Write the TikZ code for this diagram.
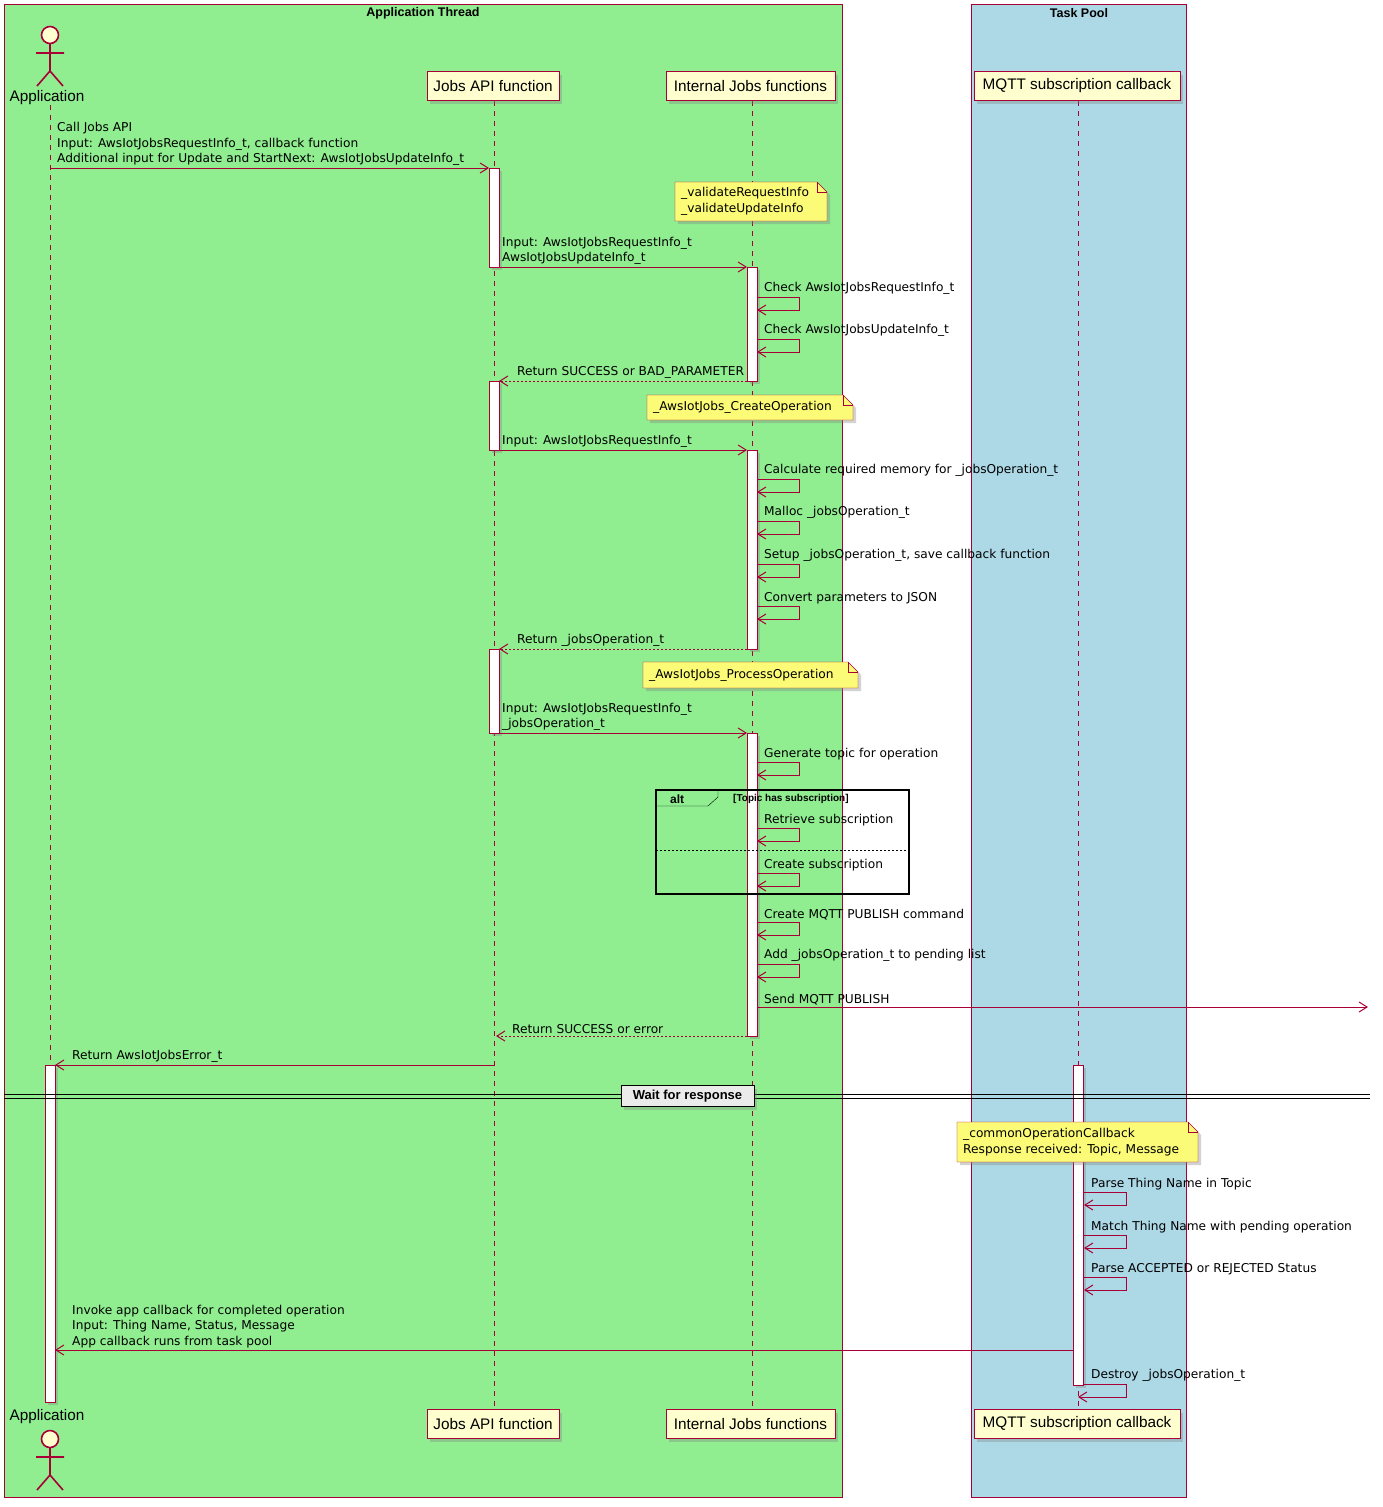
\documentclass[tikz,border=0pt]{standalone}
\usepackage{fontspec}
\setmainfont{Liberation Sans}
\newfontfamily\msgf{DejaVu Sans}
\usetikzlibrary{arrows.meta,shadows}
\definecolor{red}{HTML}{A80036}
\definecolor{part}{HTML}{FEFECE}
\definecolor{notec}{HTML}{FBFB77}
\definecolor{grn}{HTML}{90EE90}
\definecolor{blu}{HTML}{ADD8E6}
\begin{document}
\begin{tikzpicture}[x=1pt,y=-1pt,
  msgfont/.style={font=\msgf\fontsize{12.2}{15.5}\selectfont},
  txt/.style={msgfont,align=left,anchor=south west,inner sep=0pt},
  arr/.style={draw=red,line width=0.9pt,-{Straight Barb[length=8pt,width=10pt,line width=1pt]}},
  ret/.style={arr,dash pattern=on 2pt off 2pt},
  life/.style={draw=red,dash pattern=on 5pt off 5pt},
  part/.style={draw=red,fill=part,thick,minimum height=29pt,inner sep=3pt,font=\fontsize{15.3}{17}\selectfont,drop shadow={shadow xshift=3pt,shadow yshift=-3pt,opacity=.35}},
  act/.style={draw=red,fill=white,drop shadow={shadow xshift=3pt,shadow yshift=-3pt,opacity=.35}},
  note/.style={draw=red,fill=notec,drop shadow={shadow xshift=3pt,shadow yshift=-3pt,opacity=.35}},
  ntxt/.style={msgfont,align=left,anchor=west,inner sep=0pt}]
\useasboundingbox (0,0) rectangle (1382,1507);
\fill[white] (0,0) rectangle (1382,1507);
% boxes
\draw[red,fill=grn] (4,4) rectangle (842,1497);
\node[font=\bfseries\fontsize{12.5}{14}\selectfont] (t1) at (423,13) {Application Thread};
\draw[red,fill=blu] (971,4) rectangle (1186,1497);
\node[font=\bfseries\fontsize{12.5}{14}\selectfont] (t2) at (1079,13) {Task Pool};
% lifelines
\draw[life] (50,105) -- (50,1405);
\draw[life] (494,101) -- (494,1410);
\draw[life] (752,101) -- (752,1410);
\draw[life] (1078,101) -- (1078,1410);
% participants
\foreach \y/\s in {86/t,1424/b}{
 \node[part,minimum width=132pt] (j\s) at (493,\y) {Jobs API function};
 \node[part,minimum width=169pt] (i\s) at (750.5,\y) {Internal Jobs functions};
 \node[part,minimum width=206pt] (m\s) at (1077,\y) {MQTT subscription callback};
}
% actors
\foreach \y/\ly in {26/98, 1430/1417}{
 \draw[red,line width=1.6pt,fill=part] (50,\y+9) circle (8.5);
 \draw[red,line width=1.6pt] (50,\y+18) -- (50,\y+45) (36,\y+27) -- (64,\y+27) (50,\y+45) -- (37,\y+60) (50,\y+45) -- (63,\y+60);
 \node[font=\fontsize{15.3}{17}\selectfont] at (47,\ly) {Application};
}
% activations
\foreach \x/\a/\b in {489/168/267, 747/267/381, 489/381/450, 747/450/649, 489/649/733, 747/733/1036, 45/1065/1402, 1073/1065/1385}
 \draw[act] (\x,\a) rectangle (\x+10,\b);
% notes
\newcommand\mynote[5]{\draw[note] (#1,#2) -- (#3-10,#2) -- (#3,#2+10) -- (#3,#4) -- (#1,#4) -- cycle;
 \draw[red] (#3-10,#2) -- (#3-10,#2+10) -- (#3,#2+10);
 \node[ntxt] at (#1+6,{(#2+#4)/2}) {#5};}
\mynote{675}{182}{827}{221}{\_validateRequestInfo\\\_validateUpdateInfo}
\mynote{647}{395}{853}{420}{\_AwsIotJobs\_CreateOperation}
\mynote{643}{662}{858}{688}{\_AwsIotJobs\_ProcessOperation}
\mynote{957}{1122}{1198}{1162}{\_commonOperationCallback\\Response received: Topic, Message}
% messages
\newcommand\sm[3]{\draw[arr] (#1,#2) -- (#1+42,#2) -- (#1+42,#2+13) -- (#1,#2+13);
 \node[txt] at (#1+7,#2-2) {#3};}
\draw[arr] (50,168) -- (489,168); \node[txt] at (57,166) {Call Jobs API\\Input: AwsIotJobsRequestInfo\_t, callback function\\Additional input for Update and StartNext: AwsIotJobsUpdateInfo\_t};
\draw[arr] (499,267) -- (747,267); \node[txt] at (502,265) {Input: AwsIotJobsRequestInfo\_t\\AwsIotJobsUpdateInfo\_t};
\sm{757}{297}{Check AwsIotJobsRequestInfo\_t}
\sm{757}{339}{Check AwsIotJobsUpdateInfo\_t}
\draw[ret] (747,381) -- (499,381); \node[txt] at (517,379) {Return SUCCESS or BAD\_PARAMETER};
\draw[arr] (499,450) -- (747,450); \node[txt] at (502,448) {Input: AwsIotJobsRequestInfo\_t};
\sm{757}{479}{Calculate required memory for \_jobsOperation\_t}
\sm{757}{521}{Malloc \_jobsOperation\_t}
\sm{757}{564}{Setup \_jobsOperation\_t, save callback function}
\sm{757}{606}{Convert parameters to JSON}
\draw[ret] (747,649) -- (499,649); \node[txt] at (517,647) {Return \_jobsOperation\_t};
\draw[arr] (499,733) -- (747,733); \node[txt] at (502,731) {Input: AwsIotJobsRequestInfo\_t\\\_jobsOperation\_t};
\sm{757}{762}{Generate topic for operation}
% alt frame
\draw[black,line width=1.6pt] (656,790) rectangle (909,894);
\draw[black] (656,806) -- (708,806) -- (718,797) -- (718,790);
\node[font=\bfseries\fontsize{12}{13}\selectfont,anchor=west,inner sep=0pt] at (670,799) {alt};
\node[font=\bfseries\fontsize{10}{11}\selectfont,anchor=west,inner sep=0pt] at (733,799) {[Topic has subscription]};
\draw[black,dash pattern=on 2pt off 2pt] (656,850) -- (909,850);
\sm{757}{828}{Retrieve subscription}
\sm{757}{873}{Create subscription}
\sm{757}{922}{Create MQTT PUBLISH command}
\sm{757}{964}{Add \_jobsOperation\_t to pending list}
\draw[arr] (757,1007) -- (1368,1007); \node[txt] at (764,1005) {Send MQTT PUBLISH};
\draw[ret] (747,1036) -- (496,1036); \node[txt] at (512,1034) {Return SUCCESS or error};
\draw[arr] (494,1065) -- (55,1065); \node[txt] at (72,1063) {Return AwsIotJobsError\_t};
% divider
\draw[black] (4,1094) -- (1370,1094) (4,1098) -- (1370,1098);
\node[draw=black,thick,fill=white!92!black,font=\bfseries\fontsize{13}{14}\selectfont,minimum width=133pt,minimum height=21pt,drop shadow={shadow xshift=3pt,shadow yshift=-3pt,opacity=.35}] (w) at (687.5,1096) {Wait for response};
\sm{1084}{1192}{Parse Thing Name in Topic}
\sm{1084}{1235}{Match Thing Name with pending operation}
\sm{1084}{1277}{Parse ACCEPTED or REJECTED Status}
\draw[arr] (1073,1350) -- (55,1350); \node[txt] at (72,1348) {Invoke app callback for completed operation\\Input: Thing Name, Status, Message\\App callback runs from task pool};
\draw[arr] (1084,1384) -- (1126,1384) -- (1126,1397) -- (1078,1397); \node[txt] at (1091,1382) {Destroy \_jobsOperation\_t};
\end{tikzpicture}
\end{document}
